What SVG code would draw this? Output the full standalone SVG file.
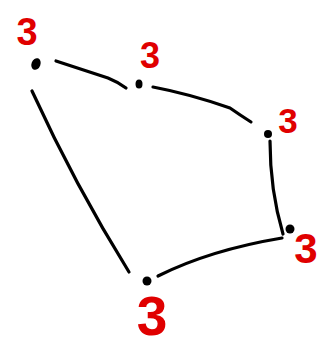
<svg xmlns="http://www.w3.org/2000/svg" width="327" height="346" viewBox="0 0 327 346">
<style>
.e{fill:none;stroke:#000;stroke-width:3.2;stroke-linecap:round;stroke-linejoin:round}
.n{fill:#000}
.l{fill:#e00000;font-family:"Liberation Sans",Arial,sans-serif;font-weight:bold;font-size:38px;text-anchor:middle}
</style>
<rect width="327" height="346" fill="#fff"/>
<g id="connectors">
<path class="e" d="M56 61 Q 90 72 108 78 Q 118 82 126 88"/>
<path class="e" d="M153 87 Q 190 94 230 108 Q 240 115 251 122"/>
<path class="e" d="M270 141 Q 270 190 283 234"/>
<path class="e" d="M282 238 Q 210 250 158 276"/>
<path class="e" d="M32 91 Q 75 185 129 272"/>
</g>
<g id="n1"><ellipse class="n" cx="36" cy="64" rx="4.5" ry="6" transform="rotate(20 36 64)"/><text class="l" x="27" y="45">3</text></g>
<g id="n2"><ellipse class="n" cx="139" cy="84" rx="3.5" ry="4.5"/><text class="l" x="150" y="68" style="font-size:36px">3</text></g>
<g id="n3"><circle class="n" cx="268" cy="134" r="4"/><text class="l" x="288" y="133" style="font-size:35px">3</text></g>
<g id="n4"><circle class="n" cx="290" cy="229" r="4.5"/><text class="l" x="306" y="263" style="font-size:42px">3</text></g>
<g id="n5"><circle class="n" cx="147" cy="281" r="4.5"/><text class="l" x="152" y="335" style="font-size:55px">3</text></g>
</svg>
